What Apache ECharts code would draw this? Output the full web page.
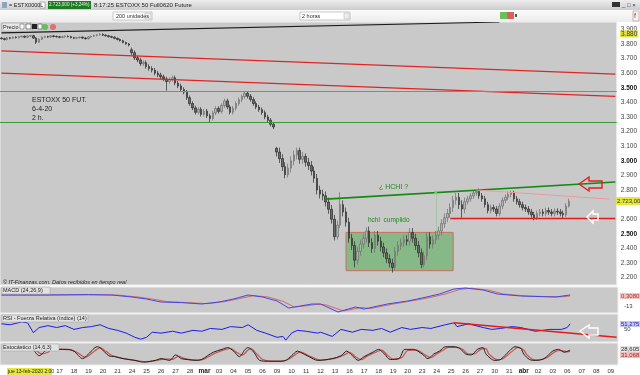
<!DOCTYPE html>
<html><head><meta charset="utf-8">
<script src="https://cdn.jsdelivr.net/npm/echarts@6/dist/echarts.min.js"></script>
<style>html,body{margin:0;padding:0;background:#fff}#c{width:640px;height:375px}</style>
</head><body><div id="c"></div><script>
// ---- x categories: trading days and 2h slots per day ----
const dayLabels = ['13','14','17','18','19','20','21','24','25','26','27','28','mar','03','04','05','06','09','10','11','12','13','16','17','18','19','20','23','24','25','26','27','30','31','abr','02','03','06','07','08','09'];
const daySlots  = [10,10,5,5,5,5,5,5,5,5,5,5,5,5,5,5,5,5,5,5,5,5,5,5,5,5,5,5,5,5,5,5,5,5,5,5,5,5,5,5,3];

// ---- price bars (2 h) ----
const opens = [
3840,3836,3830,3842,3838,3846,3843,3850,3852,3846,
3854,3856,3840,3812,3832,3846,3850,3847,3855,3851,
3849,3845,3849,3853,3850,3843,3839,3842,3846,3840,
3836,3848,3852,3858,3862,3866,3860,3856,3850,3846,
3838,3830,3822,3810,3800,3760,3740,3705,3690,3665,
3672,3645,3632,3620,3600,3588,3575,3560,3542,3556,
3568,3532,3512,3488,3470,3432,3392,3362,3332,3352,
3318,3340,3308,3290,3328,3358,3338,3378,3410,3368,
3332,3360,3392,3418,3440,3462,3442,3420,3392,3368,
3350,3330,3300,3278,3250,3085,3060,3015,2960,2905,
2950,3000,3040,3070,3010,3030,2990,2968,2930,2880,
2800,2772,2760,2718,2668,2600,2480,2560,2700,2650,
2580,2470,2420,2320,2380,2430,2470,2520,2440,2400,
2490,2450,2410,2370,2330,2300,2270,2380,2420,2440,
2460,2450,2510,2470,2420,2370,2290,2350,2480,2430,
2460,2490,2520,2570,2610,2640,2680,2730,2750,2700,
2670,2720,2740,2760,2780,2790,2760,2740,2700,2660,
2680,2670,2640,2690,2730,2750,2770,2780,2740,2720,
2700,2680,2670,2650,2630,2610,2640,2650,2640,2660,
2650,2640,2655,2650,2640,2630,2690];
const closes = [
3836,3830,3842,3838,3846,3843,3850,3852,3846,3854,
3856,3840,3812,3832,3846,3850,3847,3855,3851,3849,
3845,3849,3853,3850,3843,3839,3842,3846,3840,3836,
3848,3852,3858,3862,3866,3860,3856,3850,3846,3838,
3830,3822,3810,3800,3792,3740,3705,3690,3665,3672,
3645,3632,3620,3600,3588,3575,3560,3542,3556,3568,
3532,3512,3488,3470,3432,3392,3362,3332,3352,3318,
3340,3308,3290,3328,3358,3338,3378,3410,3368,3332,
3360,3392,3418,3440,3462,3442,3420,3392,3368,3350,
3330,3300,3278,3250,3232,3060,3015,2960,2905,2950,
3000,3040,3070,3010,3030,2990,2968,2930,2880,2800,
2772,2760,2718,2668,2600,2480,2560,2700,2650,2580,
2470,2420,2320,2380,2430,2470,2520,2440,2400,2490,
2450,2410,2370,2330,2300,2270,2380,2420,2440,2460,
2450,2510,2470,2420,2370,2290,2350,2480,2430,2460,
2490,2520,2570,2610,2640,2680,2730,2750,2700,2670,
2720,2740,2760,2780,2790,2760,2740,2700,2660,2680,
2670,2640,2690,2730,2750,2770,2780,2740,2720,2700,
2680,2670,2650,2630,2610,2640,2650,2640,2660,2650,
2640,2655,2650,2640,2630,2690,2723];
const lows = [
3830,3824,3824,3832,3832,3837,3837,3844,3840,3840,
3848,3834,3800,3806,3826,3840,3841,3841,3845,3843,
3839,3839,3843,3844,3837,3833,3833,3836,3834,3830,
3830,3842,3846,3852,3856,3854,3850,3844,3840,3832,
3824,3816,3804,3794,3784,3725,3690,3675,3650,3650,
3630,3617,3605,3585,3573,3560,3545,3480,3527,3541,
3517,3497,3473,3455,3417,3377,3347,3317,3317,3303,
3303,3293,3262,3275,3313,3323,3323,3363,3353,3317,
3317,3345,3377,3403,3425,3427,3405,3377,3353,3335,
3315,3285,3263,3235,3217,3030,2985,2930,2880,2885,
2920,2970,3010,2980,2980,2960,2938,2900,2850,2770,
2742,2730,2688,2638,2570,2455,2460,2540,2620,2550,
2440,2390,2270,2290,2350,2400,2440,2410,2370,2370,
2420,2380,2340,2300,2270,2235,2250,2350,2390,2410,
2420,2420,2440,2390,2340,2265,2270,2320,2400,2400,
2430,2460,2490,2540,2580,2610,2650,2700,2670,2610,
2640,2700,2720,2740,2760,2740,2720,2680,2640,2640,
2650,2620,2620,2670,2710,2730,2750,2720,2700,2680,
2660,2650,2630,2610,2593,2595,2620,2620,2620,2630,
2620,2620,2630,2620,2605,2615,2680];
const highs = [
3846,3842,3848,3848,3852,3852,3856,3858,3858,3860,
3862,3862,3846,3838,3852,3856,3856,3861,3861,3857,
3855,3855,3859,3859,3856,3849,3848,3852,3852,3846,
3854,3858,3864,3868,3874,3872,3866,3862,3856,3852,
3844,3836,3828,3816,3806,3775,3755,3720,3705,3687,
3687,3660,3647,3635,3615,3603,3590,3575,3571,3583,
3583,3547,3527,3503,3485,3447,3407,3377,3367,3367,
3355,3355,3323,3343,3373,3373,3393,3425,3425,3383,
3375,3407,3433,3455,3474,3477,3457,3435,3407,3383,
3365,3345,3315,3293,3265,3095,3090,3045,2990,2980,
3030,3070,3090,3090,3060,3050,3020,2998,2960,2910,
2830,2802,2790,2748,2698,2630,2590,2785,2730,2680,
2610,2500,2450,2410,2460,2500,2545,2550,2470,2520,
2520,2480,2440,2400,2360,2330,2410,2450,2470,2490,
2490,2540,2540,2500,2450,2400,2380,2510,2510,2490,
2520,2550,2600,2640,2670,2710,2760,2780,2780,2730,
2750,2760,2780,2800,2805,2810,2780,2760,2720,2700,
2700,2690,2710,2750,2770,2790,2795,2795,2760,2740,
2720,2700,2690,2670,2650,2660,2670,2670,2680,2680,
2670,2675,2675,2670,2660,2710,2740];

// ---- indicators [slot, value] ----
const macdLine = [[0,-10],[15,-10],[30,-8],[38,-10],[45,-20],[50,-30],[55,-45],[62,-48],[69,-55],[75,-45],[80,-30],[85,-10],[90,-20],[95,-40],[99,-75],[103,-65],[107,-55],[110,-55],[116,-95],[122,-70],[125,-80],[133,-55],[140,-40],[145,-25],[151,-5],[156,20],[160,25],[166,15],[171,-5],[179,-15],[186,-18],[191,-20],[196,-10]];
const macdSignal = [[0,-10],[15,-10],[30,-9],[40,-10],[47,-20],[52,-30],[57,-43],[64,-48],[71,-53],[77,-43],[82,-28],[87,-13],[92,-20],[97,-42],[101,-70],[105,-64],[109,-56],[112,-60],[118,-90],[124,-72],[127,-78],[135,-55],[142,-38],[147,-25],[153,-5],[158,18],[162,24],[168,14],[173,-5],[181,-15],[188,-18],[193,-19],[196,-15]];
const rsi = [[0,59],[3,57],[7,63],[9,61],[11,40],[13,51],[16,55],[19,51],[22,55],[25,47],[28,51],[31,53],[34,57],[37,49],[40,45],[43,39],[46,30],[48,26],[50,30],[52,41],[55,39],[59,43],[62,39],[66,45],[69,43],[72,49],[76,47],[79,53],[83,51],[85,57],[88,45],[91,39],[95,30],[97,32],[98,24],[100,39],[102,45],[105,43],[109,39],[110,41],[114,32],[117,47],[121,41],[124,47],[128,45],[131,49],[134,41],[138,51],[141,47],[145,51],[148,49],[153,57],[156,61],[157,53],[161,59],[166,51],[169,47],[172,49],[176,53],[179,51],[184,43],[189,47],[193,47],[195,51],[196,59]];
const stochK = [[11,71],[13,42],[15,63],[17,79],[19,71],[23,71],[25,63],[28,29],[30,50],[33,83],[34,79],[37,42],[39,38],[42,29],[46,21],[49,13],[53,21],[55,29],[58,21],[60,46],[62,29],[64,25],[67,21],[69,25],[71,42],[73,58],[76,71],[78,79],[80,63],[82,38],[84,71],[85,79],[87,58],[89,21],[92,17],[96,17],[98,21],[100,42],[102,63],[103,58],[106,38],[109,21],[114,29],[117,42],[119,63],[121,42],[123,21],[125,38],[128,58],[130,71],[132,50],[134,25],[137,29],[139,71],[142,71],[145,50],[147,29],[149,50],[151,63],[153,83],[156,83],[158,75],[160,50],[162,46],[164,71],[166,79],[167,50],[170,21],[172,25],[175,63],[177,83],[179,75],[180,50],[182,25],[184,21],[187,29],[190,63],[192,71],[194,58],[196,68]];
const stochD = [[12,66],[14,50],[16,58],[18,75],[20,72],[24,68],[26,58],[29,35],[31,52],[34,78],[36,62],[38,44],[40,36],[43,27],[47,19],[50,15],[54,22],[56,27],[59,26],[61,40],[63,30],[65,24],[68,22],[70,28],[72,42],[74,56],[77,70],[79,75],[81,58],[83,45],[85,68],[86,74],[88,50],[90,25],[93,18],[97,18],[99,26],[101,44],[103,60],[104,55],[107,36],[110,22],[115,30],[118,45],[120,58],[122,38],[124,24],[126,40],[129,58],[131,68],[133,45],[135,27],[138,34],[140,66],[143,68],[146,46],[148,33],[150,50],[152,66],[154,80],[157,80],[159,70],[161,50],[163,50],[165,70],[167,74],[168,50],[171,24],[173,30],[176,62],[178,80],[180,68],[181,48],[183,26],[185,22],[188,33],[191,62],[193,66],[195,60],[196,62]];

// ---- drawn studies (price / slot) ----
const blackTrend = [[0,3876],[172,3950]];
const redTrendA = [[0,3752],[212,3593]];
const redTrendB = [[0,3600],[212,3441]];
const brownLevel = 3476;
const greenLevel = 3265;
const neckLine = [[112,2738],[212,2855]];
const pinkTrend = [[164,2800],[210,2738]];
const supportLine = [[155,2607],[212,2607]];
const targetLine = [[150,2510],[150,2795]];
const boxArea = [[119,2510],[156,2248]];
const rsiTrend = [[156,61],[212,30]];

// ---- build ----
const cats = []; const startLabel = {};
let s = 0;
dayLabels.forEach((d,i)=>{ startLabel[s]=d; for(let k=0;k<daySlots[i];k++){cats.push('s'+s); s++;} });
const candles = opens.map((o,i)=>[o, closes[i], lows[i], highs[i]]);

const F = '"Liberation Sans", Arial, sans-serif';
function T(x,y,text,size,color,extra){ return {type:'text', x:x, y:y, z:100, style:Object.assign({text:text, fontSize:size, fontFamily:F, fill:color, verticalAlign:'middle'}, extra||{})}; }
function R(x,y,w,h,fill,stroke,z){ return {type:'rect', z:z||99, shape:{x:x,y:y,width:w,height:h}, style:{fill:fill, stroke:stroke||null, lineWidth:stroke?0.6:0}}; }
function L(a,b,color,w,extra){ return [{coord:a, lineStyle:Object.assign({color:color,width:w,type:'solid'},extra||{})},{coord:b}]; }
function fmtPrice(v){ return Math.floor(v/1000)+'.'+String(v%1000).padStart(3,'0'); }

const gridBg = '#c9c9c9';
const grids = [
  {left:0,right:22,top:22,height:263},
  {left:0,right:22,top:287,height:26},
  {left:0,right:22,top:314,height:28},
  {left:0,right:22,top:343,height:24}
].map(g=>Object.assign(g,{show:true,backgroundColor:gridBg,borderColor:'#eeeeee',borderWidth:1}));

const xAxes = [0,1,2,3].map(i=>({type:'category', gridIndex:i, data:cats, axisLine:{show:false}, axisTick:{show:false}, splitLine:{show:false},
  axisLabel: i<3 ? {show:false} : {show:true, fontSize:6, fontFamily:F, color:'#333', margin:3,
     interval:(idx)=> idx>=20 && startLabel[idx]!==undefined,
     formatter:(v,idx)=>{ const t=startLabel[idx]; return (t==='mar'||t==='abr') ? '{b|'+t+'}' : t; },
     rich:{b:{fontWeight:'bold', fontSize:6.5, fontFamily:F, color:'#222'}}}}));

const yAxes = [
  {type:'value', gridIndex:0, position:'right', min:2150, max:3950, interval:50, splitLine:{show:false}, axisLine:{show:false}, axisTick:{show:false},
   axisLabel:{fontSize:6.5, fontFamily:F, color:'#444', margin:4, formatter:v=>{ if(v%100!==0) return ''; const t=fmtPrice(v); return v%500===0 ? '{b|'+t+'}' : t; },
     rich:{b:{fontWeight:'bold', fontSize:6.5, fontFamily:F, color:'#111'}}}},
  {type:'value', gridIndex:1, min:-100, max:30, show:false},
  {type:'value', gridIndex:2, min:20, max:80, show:false},
  {type:'value', gridIndex:3, min:0, max:100, show:false}
];

const option = {
  animation:false,
  backgroundColor:'#ffffff',
  grid:grids, xAxis:xAxes, yAxis:yAxes,
  series:[
    {type:'candlestick', xAxisIndex:0, yAxisIndex:0, data:candles, barWidth:2,
     itemStyle:{color:'#b4b4b4', color0:'#6a6a6a', borderColor:'#6e6e6e', borderColor0:'#2a2a2a', borderWidth:0.7},
     markArea:{silent:true, data:[[{coord:boxArea[0]},{coord:boxArea[1]}]], itemStyle:{color:'rgba(70,168,70,0.5)', borderColor:'#c87060', borderWidth:1}},
     markLine:{silent:true, symbol:'none', label:{show:false}, data:[
        L(blackTrend[0],blackTrend[1],'#1a1a1a',1.2),
        L(redTrendA[0],redTrendA[1],'#e02424',1.2),
        L(redTrendB[0],redTrendB[1],'#e02424',1.2),
        {yAxis:brownLevel, lineStyle:{color:'#b8784c',width:1.2,type:'solid'}},
        {yAxis:greenLevel, lineStyle:{color:'#3c9a3c',width:1.2,type:'solid'}},
        L(neckLine[0],neckLine[1],'#138a13',1.6),
        L(pinkTrend[0],pinkTrend[1],'#f09a9a',1),
        L(supportLine[0],supportLine[1],'#e01c1c',1.3),
        [{coord:targetLine[0], symbol:'none', lineStyle:{color:'#7acc7a',width:1,type:'dotted'}},{coord:targetLine[1], symbol:'arrow', symbolSize:[4,4]}]
     ]}},
    {type:'line', xAxisIndex:1, yAxisIndex:1, data:macdSignal, symbol:'none', lineStyle:{color:'#d46a6a',width:1}},
    {type:'line', xAxisIndex:1, yAxisIndex:1, data:macdLine, symbol:'none', lineStyle:{color:'#4646e0',width:1}},
    {type:'line', xAxisIndex:2, yAxisIndex:2, data:rsi, symbol:'none', lineStyle:{color:'#1c1ce6',width:1},
     markLine:{silent:true, symbol:'none', label:{show:false}, data:[L(rsiTrend[0],rsiTrend[1],'#e01c1c',1.5)]}},
    {type:'line', xAxisIndex:3, yAxisIndex:3, data:stochD, symbol:'none', smooth:0.3, lineStyle:{color:'#d05050',width:1.2}},
    {type:'line', xAxisIndex:3, yAxisIndex:3, data:stochK, symbol:'none', smooth:0.3, lineStyle:{color:'#202020',width:1}}
  ],
  graphic:{elements:[
    // top title bar
    {type:'rect', z:90, shape:{x:0,y:0,width:640,height:10}, style:{fill:{type:'linear',x:0,y:0,x2:0,y2:1,colorStops:[{offset:0,color:'#eeeeee'},{offset:1,color:'#cccccc'}]}}},
    R(2,2,5,6,'#8fa4c0'),
    T(9,5,'= ESTX0000L',5.5,'#222'),
    R(40,2,5,6,'#ffffff','#888'),
    R(48,1,43,8,'#1f7a24'),
    T(49,5,'2.723,000 (+3,24%)',4.6,'#d8ffd8'),
    T(94,5,'8:17:25 ESTOXX 50 Full0620 Future',6,'#222'),
    R(612,2,8,5,'#333'),
    T(622,5,'_ □ ×',6,'#333'),
    // toolbar row
    {type:'rect', z:90, shape:{x:0,y:10,width:640,height:12}, style:{fill:{type:'linear',x:0,y:0,x2:0,y2:1,colorStops:[{offset:0,color:'#fbfbfb'},{offset:1,color:'#ececec'}]}}},
    R(113,12,39,8,'#ffffff','#aaa'),
    T(116,16,'200 unidades',5.5,'#333'),
    R(145,13,6,6,'#eeeeee','#bbb'),
    R(300,12,50,8,'#ffffff','#aaa'),
    T(302,16,'2 horas',5.5,'#333'),
    R(344,13,5,6,'#eeeeee','#bbb'),
    R(500,12,7,7,'#6cbf5a'), R(507,12,7,7,'#d96060'), R(515,14,2,3,'#555'),
    R(633,11,6,10,'#f4f4f4','#999'), T(634,16,'f',7,'#d02020'),
    // Precio header
    R(2,23,30,8,'#e8e8e8','#999'),
    T(3,27,'Precio',5.5,'#222'),
    R(20,24,4,5,'#ffffff','#666'), R(26,24,5,5,'#ffffff','#333'), R(32,24,5,5,'#222'), R(38,24,4,5,'#ffffff','#444'),
    {type:'circle', z:100, shape:{cx:45,cy:27,r:3}, style:{fill:'#5ec05e'}},
    {type:'circle', z:100, shape:{cx:53,cy:27,r:3}, style:{fill:'#e07070'}},
    // annotations
    T(32,100,'ESTOXX 50 FUT.',7,'#222'),
    T(32,109,'6-4-20',7,'#222'),
    T(32,118,'2 h.',7,'#222'),
    T(379,187,'¿ HCHI ?',7,'#1c8a1c'),
    T(368,220,'hchi  cumplido',6.5,'#1c8a1c'),
    T(3,282,'© IT-Finanzas.com. Datos recibidos en tiempo real',5.5,'#222',{fontStyle:'italic'}),
    {type:'polygon', z:100, shape:{points:[[579,184],[589,177],[589,181],[602,181],[602,188],[589,188],[589,191]]}, style:{fill:null, stroke:'#e02020', lineWidth:1.4}},
    {type:'polygon', z:100, shape:{points:[[587,217],[593,211],[593,214],[598,214],[598,220],[593,220],[593,223]]}, style:{fill:null, stroke:'#ffffff', lineWidth:1.4}},
    {type:'polygon', z:100, shape:{points:[[580,331],[589,325],[589,328],[598,328],[598,335],[589,335],[589,338]]}, style:{fill:null, stroke:'#ffffff', lineWidth:1.4}},
    // price axis highlights
    T(620,34,'3.880',6.5,'#333',{backgroundColor:'#e6e640', padding:[0,1]}),
    R(619,197,21,10,'#ffffff',null,99),
    R(616,197,24,8,'#e6e640',null,100),
    {type:'text', x:617, y:201, z:101, style:{text:'2.723,00', fontSize:6, fontFamily:F, fill:'#333', verticalAlign:'middle'}},
    // indicator headers
    R(2,287,48,7,'#e2e2e2','#aaa'), T(3,290.5,'MACD (24,26,9)',5.5,'#222'),
    R(2,315,86,7,'#e2e2e2','#aaa'), T(3,318.5,'RSI - Fuerza Relativa (índice) (14)',5.5,'#222'),
    R(2,344,57,7,'#e2e2e2','#aaa'), T(3,347.5,'Estocástico (14,6,3)',5.5,'#222'),
    // indicator right labels
    T(620,296,'0,3080',6,'#b03030',{backgroundColor:'#efc4c4', padding:[0,1]}),
    T(624,306,'-13',6,'#444'),
    T(620,324,'51,275',6,'#2020b0',{backgroundColor:'#c8c8f0', padding:[0,1]}),
    T(624,329,'50',6,'#444'),
    T(620,349,'28,605',6,'#333',{backgroundColor:'#e4e4e4', padding:[0,1]}),
    T(620,355,'31,068',6,'#b02020',{backgroundColor:'#f0c0c0', padding:[0,1]}),
    // cursor date label
    R(7,368,45,7,'#e6e640',null,110),
    {type:'text', x:8, y:371.5, z:111, style:{text:'jue 13-feb-2020 2:00', fontSize:5, fontFamily:F, fill:'#222', verticalAlign:'middle'}}
  ]}
};
const chart = echarts.init(document.getElementById('c'), null, {renderer:'canvas'});
chart.setOption(option);
</script></body></html>
